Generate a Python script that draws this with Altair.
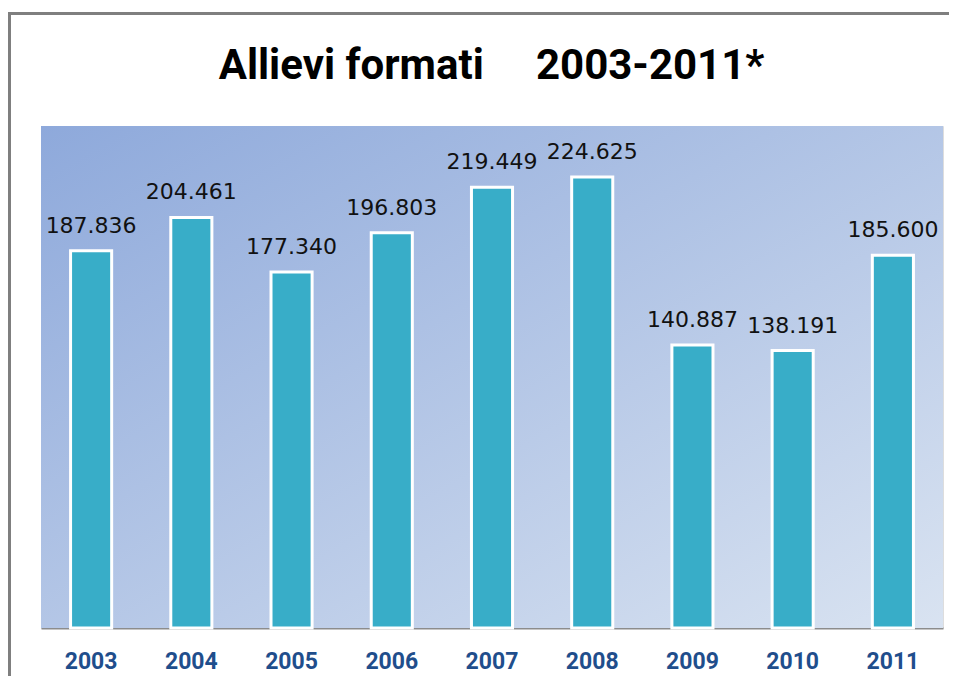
import altair as alt
import pandas as pd

# ---- data ----
anni = ["2003", "2004", "2005", "2006", "2007", "2008", "2009", "2010", "2011"]
allievi = [187836, 204461, 177340, 196803, 219449, 224625, 140887, 138191, 185600]
etichette = ["187.836", "204.461", "177.340", "196.803", "219.449",
             "224.625", "140.887", "138.191", "185.600"]
titolo = "Allievi formati\u00a0\u00a0\u00a0\u00a0\u00a02003-2011*"

df = pd.DataFrame({"anno": anni, "allievi": allievi, "etichetta": etichette})

W, H = 902, 502

gradient = alt.Gradient(
    gradient="linear",
    stops=[alt.GradientStop(color="#8EA9DB", offset=0),
           alt.GradientStop(color="#D9E3F1", offset=1)],
    x1=0, y1=0, x2=1, y2=1,
)

background = alt.Chart(alt.Data(values=[{}])).mark_rect(fill=gradient).encode(
    x=alt.value(0), x2=alt.value(W), y=alt.value(0), y2=alt.value(H)
)

frame = alt.Chart(alt.Data(values=[{}])).mark_rect(
    filled=False, stroke="#7F7F7F", strokeWidth=3
).encode(
    x=alt.value(-31.5), y=alt.value(-112.5), x2=alt.value(1100), y2=alt.value(800)
)

title = alt.Chart(alt.Data(values=[{}])).mark_text(
    font="Roboto", fontSize=42, fontWeight="bold", color="#000000",
    align="center", baseline="alphabetic",
).encode(x=alt.value(W / 2 - 0.5), y=alt.value(-47), text=alt.value(titolo))

x_enc = alt.X(
    "anno:N", sort=anni,
    scale=alt.Scale(paddingInner=0.59, paddingOuter=0.295),
    axis=alt.Axis(
        title=None, labelAngle=0, labelFont="Roboto", labelFontSize=23,
        labelFontWeight="bold", labelColor="#1F4E8C", labelPadding=22,
        ticks=False, domainColor="#8C8C8C", domainWidth=2,
    ),
)
y_enc = alt.Y("allievi:Q", scale=alt.Scale(domain=[0, 250000]), axis=None)

base = alt.Chart(df)

bars = base.mark_bar(fill="#38ADC8", stroke="white", strokeWidth=3).encode(
    x=x_enc, y=y_enc
)

text = base.mark_text(
    font="DejaVu Sans", fontSize=22, color="#111111", baseline="alphabetic",
    dy=-18,
).encode(x=x_enc, y=y_enc, text="etichetta:N")

chart = alt.layer(background, frame, title, bars, text).properties(
    width=W, height=H,
    padding={"left": 33, "top": 118, "right": 6, "bottom": 48},
    autosize=alt.AutoSizeParams(type="none"),
).configure_view(stroke=None).configure(background="white")

chart.save("out.html", embed_options={"renderer": "svg", "actions": False})
